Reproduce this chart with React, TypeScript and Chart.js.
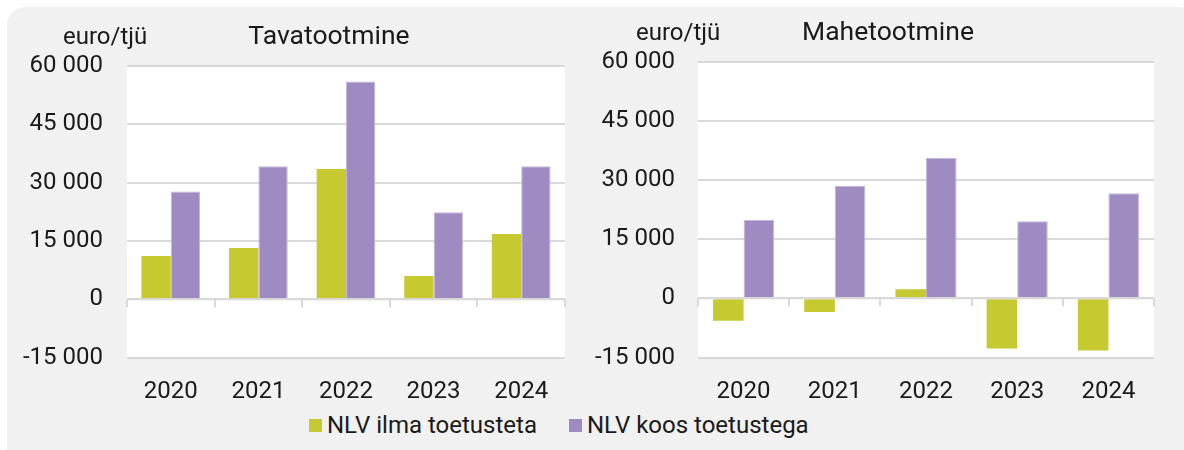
import React, { useEffect, useRef } from "react";
import { Chart, registerables } from "chart.js";
Chart.register(...registerables);

const years = ["2020", "2021", "2022", "2023", "2024"];
const tavaIlma = [11100, 13200, 33500, 6000, 16800];
const tavaKoos = [27700, 34200, 56000, 22400, 34200];
const maheIlma = [-5700, -3500, 2300, -12700, -13200];
const maheKoos = [19900, 28500, 35600, 19500, 26600];
const yMin = -15000;
const yMax = 60000;
const yStep = 15000;
const seriesNames = ["NLV ilma toetusteta", "NLV koos toetustega"];
const panelTitles = ["Tavatootmine", "Mahetootmine"];
const unitLabel = "euro/tjü";

const GREEN = "#c6c92f";
const PURPLE = "#9e8bc1";
const GRID = "#d9d9d9";
const TEXT = "#1a1a1a";
const FONT = "Roboto";

function fmt(v: number): string {
  const s = Math.abs(v).toString().replace(/\B(?=(\d{3})+(?!\d))/g, " ");
  return (v < 0 ? "-" : "") + s;
}

type PanelOpts = {
  title: string;
  ilma: number[];
  koos: number[];
  top: number;
  axisWidth: number;
  labelPad: number;
  rightPad: number;
  titleCenter: number;
  unitOffset: number;
};

const panelPlugin = {
  id: "panelDecor",
  beforeDraw(chart: any) {
    const a = chart.chartArea;
    const ctx = chart.ctx;
    ctx.save();
    ctx.fillStyle = "#ffffff";
    ctx.fillRect(a.left, a.top, a.right - a.left, a.bottom - a.top);
    ctx.restore();
  },
  afterDatasetsDraw(chart: any) {
    const ctx = chart.ctx;
    const xs = chart.scales.x;
    const ys = chart.scales.y;
    const y0 = ys.getPixelForValue(0);
    const n = chart.data.labels.length;
    const w = (xs.right - xs.left) / n;
    ctx.save();
    ctx.strokeStyle = GRID;
    ctx.lineWidth = 2;
    ctx.beginPath();
    for (let i = 0; i <= n; i++) {
      const x = Math.round(xs.left + i * w);
      ctx.moveTo(x, y0);
      ctx.lineTo(x, y0 + 8);
    }
    ctx.moveTo(xs.left, y0);
    ctx.lineTo(xs.right, y0);
    ctx.stroke();
    ctx.restore();
  },
  afterDraw(chart: any) {
    const o = chart.options.plugins.panelDecor;
    const ctx = chart.ctx;
    const a = chart.chartArea;
    ctx.save();
    ctx.fillStyle = TEXT;
    ctx.textBaseline = "alphabetic";
    ctx.font = `24px ${FONT}`;
    ctx.textAlign = "left";
    ctx.fillText(unitLabel, a.left - o.unitOffset, a.top - 22);
    ctx.font = `26.5px ${FONT}`;
    ctx.textAlign = "center";
    ctx.fillText(o.title, a.left + o.titleCenter, a.top - 22);
    ctx.restore();
  },
};

function Panel(props: PanelOpts & { width: number; height: number; left: number }) {
  const ref = useRef<HTMLCanvasElement>(null);
  useEffect(() => {
    if (!ref.current) return;
    const chart = new Chart(ref.current, {
      type: "bar",
      data: {
        labels: years,
        datasets: [
          {
            label: seriesNames[0],
            data: props.ilma,
            backgroundColor: GREEN,
            borderWidth: 0,
            categoryPercentage: 0.67,
            barPercentage: 1.0,
          },
          {
            label: seriesNames[1],
            data: props.koos,
            backgroundColor: PURPLE,
            borderColor: "#c4b8db",
            borderWidth: 1,
            categoryPercentage: 0.67,
            barPercentage: 1.0,
          },
        ],
      },
      options: {
        animation: false,
        responsive: false,
        devicePixelRatio: 1,
        layout: { padding: { top: props.top, right: props.rightPad, bottom: 0, left: 0 } },
        plugins: {
          legend: { display: false },
          tooltip: { enabled: false },
          title: { display: false },
          panelDecor: { title: props.title, titleCenter: props.titleCenter, unitOffset: props.unitOffset },
        } as any,
        scales: {
          x: {
            grid: { display: false, drawTicks: false },
            border: { display: false },
            ticks: { color: TEXT, font: { family: FONT, size: 24 }, padding: 20, maxRotation: 0 },
            afterFit: (s: any) => {
              s.height = props.height - 357.5;
            },
          },
          y: {
            min: yMin,
            max: yMax,
            grid: { color: GRID, lineWidth: 2, drawTicks: false },
            border: { display: false },
            ticks: {
              stepSize: yStep,
              color: TEXT,
              font: { family: FONT, size: 24 },
              padding: props.labelPad,
              callback: (v: any) => fmt(Number(v)),
            },
            afterFit: (s: any) => {
              s.width = props.axisWidth;
            },
          },
        },
      },
      plugins: [panelPlugin],
    });
    return () => chart.destroy();
  }, []);
  return (
    <canvas
      ref={ref}
      width={props.width}
      height={props.height}
      style={{ position: "absolute", left: props.left, top: 0, width: props.width, height: props.height }}
    />
  );
}

function LegendItem({ color, text }: { color: string; text: string }) {
  return (
    <div style={{ display: "flex", alignItems: "center" }}>
      <div style={{ width: 13, height: 13, background: color, marginRight: 5 }} />
      <span>{text}</span>
    </div>
  );
}

export default function App() {
  return (
    <div style={{ position: "absolute", left: 0, top: 0, width: 1184, height: 450, overflow: "hidden", background: "#ffffff" }}>
      <div
        style={{
          position: "absolute",
          left: 7,
          top: 7,
          width: 1190,
          height: 460,
          background: "#f1f1f1",
          borderRadius: 18,
        }}
      />
      <div style={{ position: "absolute", left: 0, top: 0, width: 1184, height: 450 }}>
        <Panel
          left={0}
          width={590}
          height={410}
          title={panelTitles[0]}
          ilma={tavaIlma}
          koos={tavaKoos}
          top={66}
          axisWidth={127}
          labelPad={24}
          rightPad={25}
          titleCenter={202}
          unitOffset={64}
        />
        <Panel
          left={590}
          width={594}
          height={410}
          title={panelTitles[1]}
          ilma={maheIlma}
          koos={maheKoos}
          top={61.5}
          axisWidth={108}
          labelPad={23}
          rightPad={30}
          titleCenter={190}
          unitOffset={62}
        />
      </div>
      <div
        style={{
          position: "absolute",
          left: 309,
          top: 411,
          display: "flex",
          gap: 32,
          fontFamily: FONT,
          fontSize: 24,
          lineHeight: "28px",
          color: TEXT,
          whiteSpace: "nowrap",
        }}
      >
        <LegendItem color={GREEN} text={seriesNames[0]} />
        <LegendItem color={PURPLE} text={seriesNames[1]} />
      </div>
    </div>
  );
}
